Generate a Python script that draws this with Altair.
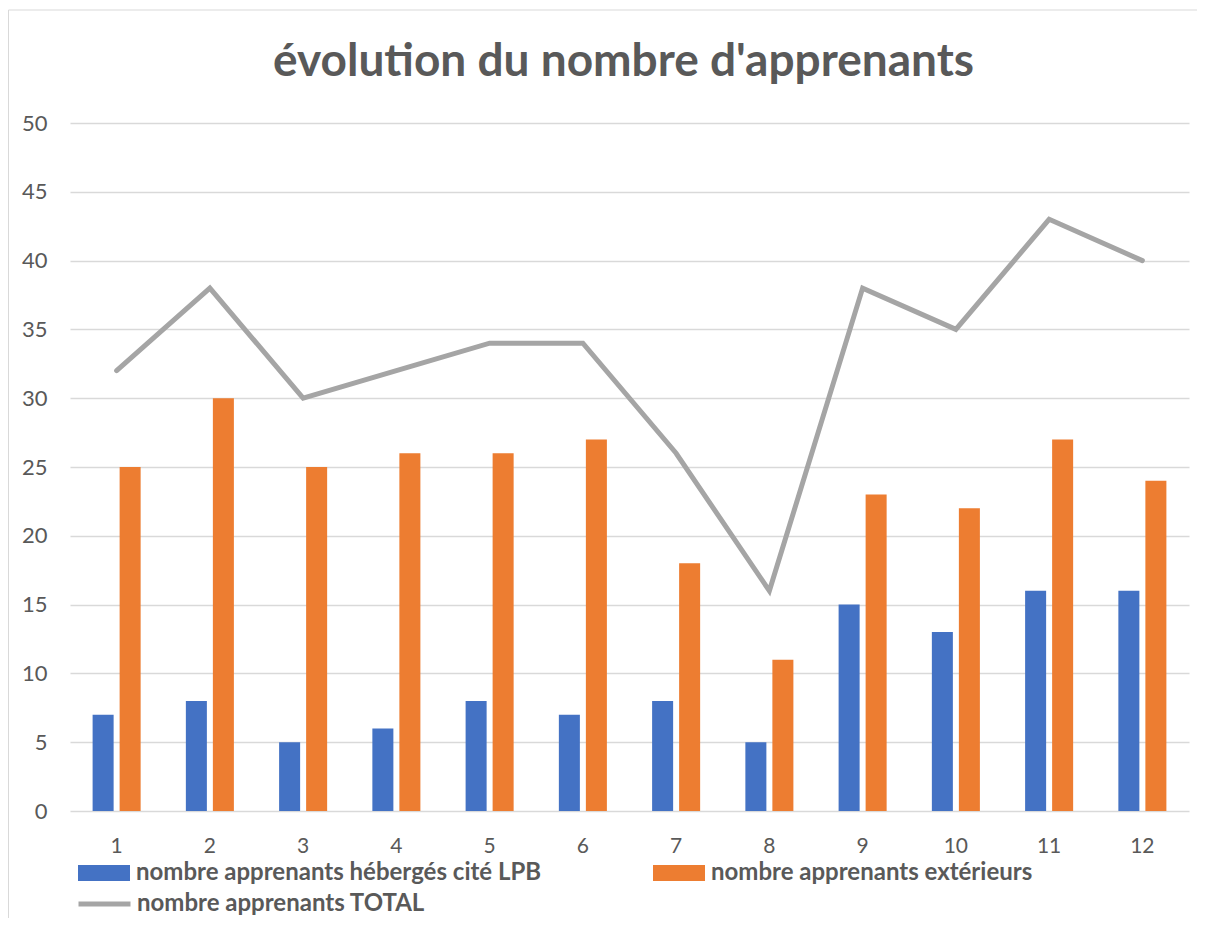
import altair as alt
import pandas as pd

categories = ["1", "2", "3", "4", "5", "6", "7", "8", "9", "10", "11", "12"]
heberges = [7, 8, 5, 6, 8, 7, 8, 5, 15, 13, 16, 16]
exterieurs = [25, 30, 25, 26, 26, 27, 18, 11, 23, 22, 27, 24]
total = [32, 38, 30, 32, 34, 34, 26, 16, 38, 35, 43, 40]

s_heb = "nombre apprenants hébergés cité LPB"
s_ext = "nombre apprenants extérieurs"
s_tot = "nombre apprenants TOTAL"
bar_series = [s_heb, s_ext]

bars_df = pd.DataFrame(
    [{"cat": c, "serie": s_heb, "val": v} for c, v in zip(categories, heberges)]
    + [{"cat": c, "serie": s_ext, "val": v} for c, v in zip(categories, exterieurs)]
)
line_df = pd.DataFrame({"cat": categories, "val": total, "serie": [s_tot] * len(categories)})

FONT = "Lato"
GREY = "#595959"
W, H = 1119, 688
PAD_TOP = 115
SVG_H = 910

x = alt.X(
    "cat:O",
    sort=categories,
    scale=alt.Scale(paddingInner=0.485, paddingOuter=0.2425),
    axis=alt.Axis(title=None, labelAngle=0, ticks=False, domain=False, grid=False,
                  labelPadding=24, labelFontSize=21, labelColor=GREY, labelFont=FONT),
)
y = alt.Y(
    "val:Q",
    scale=alt.Scale(domain=[0, 50], nice=False),
    axis=alt.Axis(title=None, values=list(range(0, 51, 5)), ticks=False, domain=False,
                  grid=True, gridColor="#D9D9D9", gridWidth=1.5,
                  labelPadding=23, labelFontSize=22, labelColor=GREY, labelFont=FONT),
)

legend_common = dict(
    orient="none", title=None, labelFont=FONT, labelFontSize=24, labelFontWeight="bold",
    labelColor=GREY, labelLimit=0, padding=0,
)

bars = alt.Chart(bars_df).mark_bar().encode(
    x=x,
    y=y,
    xOffset=alt.XOffset("serie:N", sort=bar_series,
                        scale=alt.Scale(paddingInner=0.222, paddingOuter=0)),
    fill=alt.Fill("serie:N", sort=bar_series,
                  scale=alt.Scale(domain=bar_series, range=["#4472C4", "#ED7D31"]),
                  legend=alt.Legend(**legend_common, direction="horizontal", columns=2,
                                    columnPadding=111, legendX=8, legendY=724,
                                    labelOffset=6,
                                    symbolType="M-1,-0.3077H1V0.3077H-1Z",
                                    symbolSize=2704, symbolStrokeWidth=0)),
)

line = alt.Chart(line_df).mark_line(strokeWidth=5, strokeCap="round").encode(
    x=x,
    y=y,
    stroke=alt.Stroke("serie:N",
                      scale=alt.Scale(domain=[s_tot], range=["#A5A5A5"]),
                      legend=alt.Legend(**legend_common, legendX=6, legendY=752.5,
                                        labelOffset=4,
                                        symbolType="M-1,0H1", symbolSize=2704,
                                        symbolStrokeWidth=5)),
)

frame_left = alt.Chart(alt.Data(values=[{}])).mark_rule(color="#D9D9D9", strokeWidth=1).encode(
    x=alt.value(-61.5), y=alt.value(-PAD_TOP + 2), y2=alt.value(H + 120)
)
frame_top = alt.Chart(alt.Data(values=[{}])).mark_rule(color="#D9D9D9", strokeWidth=1).encode(
    x=alt.value(-61.5), x2=alt.value(W + 20), y=alt.value(-PAD_TOP + 2)
)

chart = alt.layer(frame_left, frame_top, bars, line).resolve_scale(
    fill="independent", stroke="independent"
).properties(
    width=W,
    height=H,
    title=alt.Title("évolution du nombre d'apprenants", font=FONT, fontSize=46,
                    fontWeight="bold", color=GREY, anchor="middle", dx=-6,
                    baseline="alphabetic", offset=-112),
    autosize=alt.AutoSizeParams(type="none"),
    padding={"left": 62, "top": PAD_TOP, "right": 8, "bottom": SVG_H - PAD_TOP - H},
).configure(background="white").configure_view(stroke=None)

chart.save("out.html", embed_options={"renderer": "svg", "actions": False})
